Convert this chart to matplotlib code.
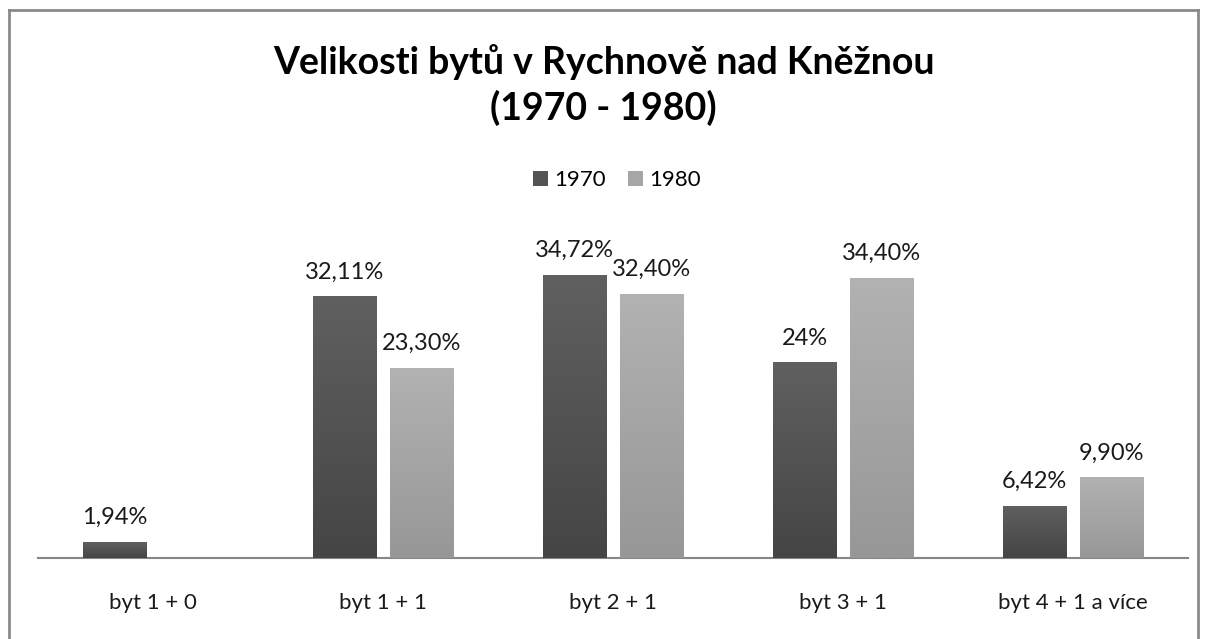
import numpy as np
import matplotlib; matplotlib.use("Agg")
import matplotlib.pyplot as plt
from matplotlib.patches import Patch
from matplotlib.colors import LinearSegmentedColormap
from matplotlib.lines import Line2D

plt.rcParams.update({"font.family": ["Lato", "DejaVu Sans"]})

categories = ["byt 1 + 0", "byt 1 + 1", "byt 2 + 1", "byt 3 + 1", "byt 4 + 1 a více"]
years = ["1970", "1980"]
v1970 = [1.94, 32.11, 34.72, 24.0, 6.42]
v1980 = [np.nan, 23.30, 32.40, 34.40, 9.90]
lab1970 = ["1,94%", "32,11%", "34,72%", "24%", "6,42%"]
lab1980 = ["", "23,30%", "32,40%", "34,40%", "9,90%"]

DARK = ("#606060", "#454545")   # top, bottom of gradient
LIGHT = ("#b2b2b2", "#979797")
AXC, BORDER = "#868686", "#8a8a8a"

W, H = 1207, 639
fig = plt.figure(figsize=(W / 100, H / 100), dpi=100)
ax = fig.add_axes([38 / W, (H - 558) / H, (1188 - 38) / W, (558 - 232) / H])

x = np.arange(len(categories)); w = 0.274; off = 0.166
grad = np.linspace(1, 0, 256).reshape(-1, 1)
for vals, labs, (ctop, cbot), dx in [(v1970, lab1970, DARK, -off), (v1980, lab1980, LIGHT, off)]:
    cmap = LinearSegmentedColormap.from_list("g", [cbot, ctop])
    bars = ax.bar(x + dx, vals, w, color=ctop, edgecolor="none", zorder=2)
    for b, v, t in zip(bars, vals, labs):
        if np.isnan(v):
            continue
        im = ax.imshow(grad, cmap=cmap, aspect="auto", zorder=3, vmin=0, vmax=1,
                       extent=[b.get_x(), b.get_x() + b.get_width(), 0, b.get_height()])
        im.set_clip_path(b)
        ax.annotate(t, (b.get_x() + b.get_width() / 2, v), xytext=(0, 10), textcoords="offset points",
                    ha="center", va="bottom", fontsize=17, color="#1a1a1a")

ax.set_xlim(-0.5, len(categories) - 0.5); ax.set_ylim(0, 40)
ax.set_xticks(x); ax.set_xticklabels(categories, fontsize=16, color="#1a1a1a")
ax.tick_params(axis="x", length=0, pad=25)
ax.set_yticks([])
for s in ["top", "right", "left"]:
    ax.spines[s].set_visible(False)
ax.spines["bottom"].set_color(AXC); ax.spines["bottom"].set_linewidth(1.5)
ax.patch.set_visible(False)

fig.text(0.5, 1 - 85 / H, "Velikosti bytů v Rychnově nad Kněžnou\n(1970 - 1980)", ha="center", va="center",
         fontsize=27, fontweight="bold", linespacing=1.32, color="#000000")

handles = [Patch(facecolor="#545454", edgecolor="none"), Patch(facecolor="#a6a6a6", edgecolor="none")]
fig.legend(handles, years, loc="center", bbox_to_anchor=(617 / W, 1 - 180 / H), ncol=2, frameon=False,
           fontsize=16, handlelength=0.65, handleheight=0.65, handletextpad=0.3, columnspacing=1.0)

# outer chart-area border
for xs, ys in [([9 / W, 9 / W], [0, 1 - 10 / H]), ([9 / W, 1198 / W], [1 - 10 / H, 1 - 10 / H]),
               ([1198 / W, 1198 / W], [1 - 10 / H, 0])]:
    fig.add_artist(Line2D(xs, ys, color=BORDER, lw=2))

fig.savefig("out.png", dpi=100, facecolor="white")
